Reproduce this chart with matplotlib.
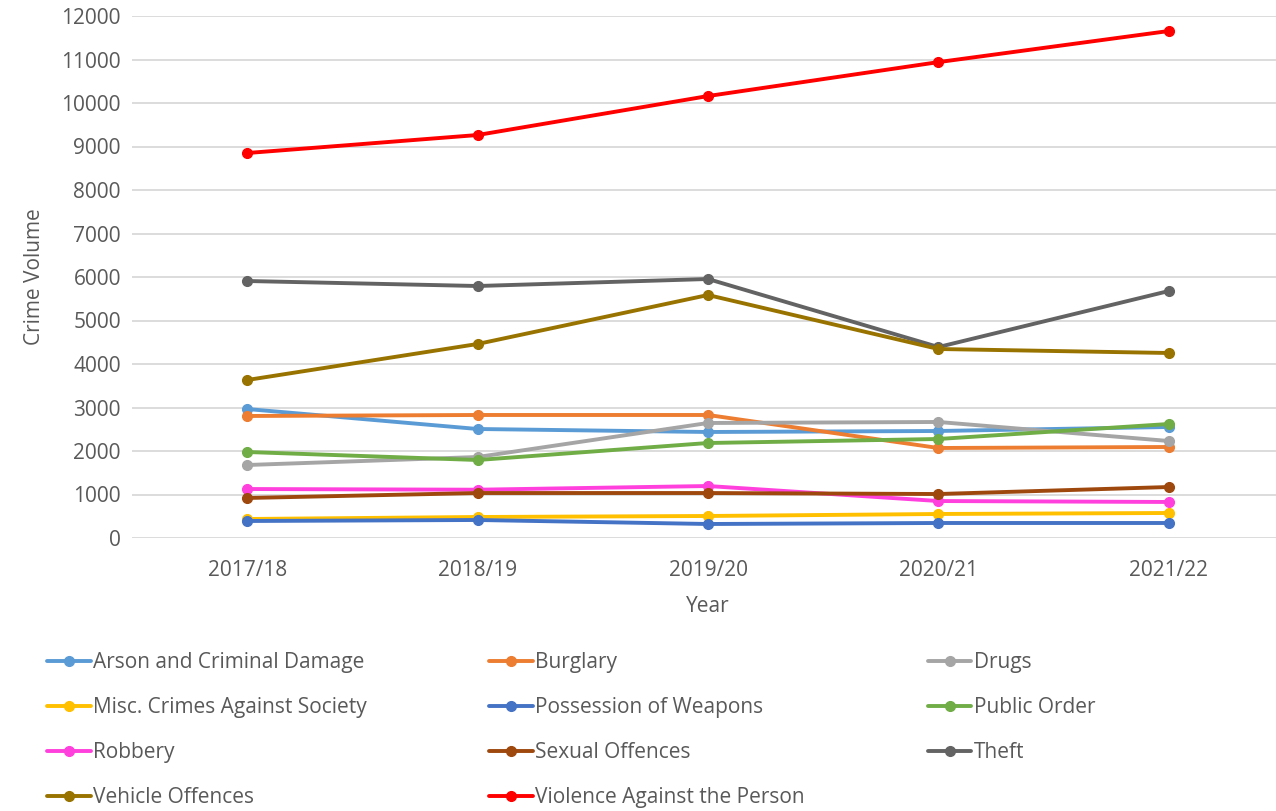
import matplotlib.pyplot as plt

plt.rcParams['font.family'] = ['Open Sans', 'DejaVu Sans']

years = ['2017/18', '2018/19', '2019/20', '2020/21', '2021/22']

arson = [2965, 2506, 2437, 2460, 2552]
burglary = [2805, 2828, 2828, 2069, 2092]
drugs = [1678, 1862, 2644, 2667, 2230]
misc = [437, 483, 506, 552, 575]
weapons = [391, 414, 322, 345, 345]
public_order = [1977, 1793, 2184, 2276, 2621]
robbery = [1126, 1110, 1195, 850, 828]
sexual = [920, 1034, 1034, 1011, 1172]
theft = [5908, 5793, 5954, 4390, 5678]
vehicle = [3632, 4460, 5586, 4345, 4253]
violence = [8850, 9264, 10160, 10940, 11655]

names = ['Arson and Criminal Damage', 'Burglary', 'Drugs',
         'Misc. Crimes Against Society', 'Possession of Weapons', 'Public Order',
         'Robbery', 'Sexual Offences', 'Theft',
         'Vehicle Offences', 'Violence Against the Person']
series = [arson, burglary, drugs, misc, weapons, public_order,
          robbery, sexual, theft, vehicle, violence]
colors = ['#5B9BD5', '#ED7D31', '#A5A5A5', '#FFC000', '#4472C4', '#70AD47',
          '#FF40DC', '#9E480E', '#636363', '#997300', '#FF0000']

fig = plt.figure(figsize=(12.76, 8.11), dpi=100)
ax = fig.add_axes([132 / 1276, 1 - 538 / 811, 1152 / 1276, 522 / 811])

x = range(len(years))
handles = []
for vals, name, c in zip(series, names, colors):
    h, = ax.plot(x, vals, color=c, lw=2.8, marker='o', ms=7, label=name,
                 solid_capstyle='round')
    handles.append(h)

ax.set_xlim(-0.5, 4.5)
ax.set_ylim(0, 12000)
ax.set_yticks(range(0, 12001, 1000))
ax.set_xticks(list(x))
ax.set_xticklabels(years)
ax.grid(axis='y', color='#D9D9D9', lw=1.3)
ax.set_axisbelow(True)
for s in ax.spines.values():
    s.set_visible(False)
ax.tick_params(length=0, labelsize=15, labelcolor='#595959', pad=8)
ax.tick_params(axis='x', pad=16)
ax.set_xlabel('Year', fontsize=15, color='#595959', labelpad=11)
ax.set_ylabel('Crime Volume', fontsize=15, color='#595959', labelpad=12)

order = [0, 3, 6, 9, 1, 4, 7, 10, 2, 5, 8]
leg = fig.legend([handles[i] for i in order], [names[i] for i in order],
                 loc='upper left', bbox_to_anchor=(0.022, 0.219), ncol=3,
                 frameon=False, fontsize=15, handlelength=2.1, handletextpad=0.1,
                 columnspacing=5.9, labelspacing=1.15)
for t in leg.get_texts():
    t.set_color('#595959')

fig.savefig('out.png', dpi=100)
